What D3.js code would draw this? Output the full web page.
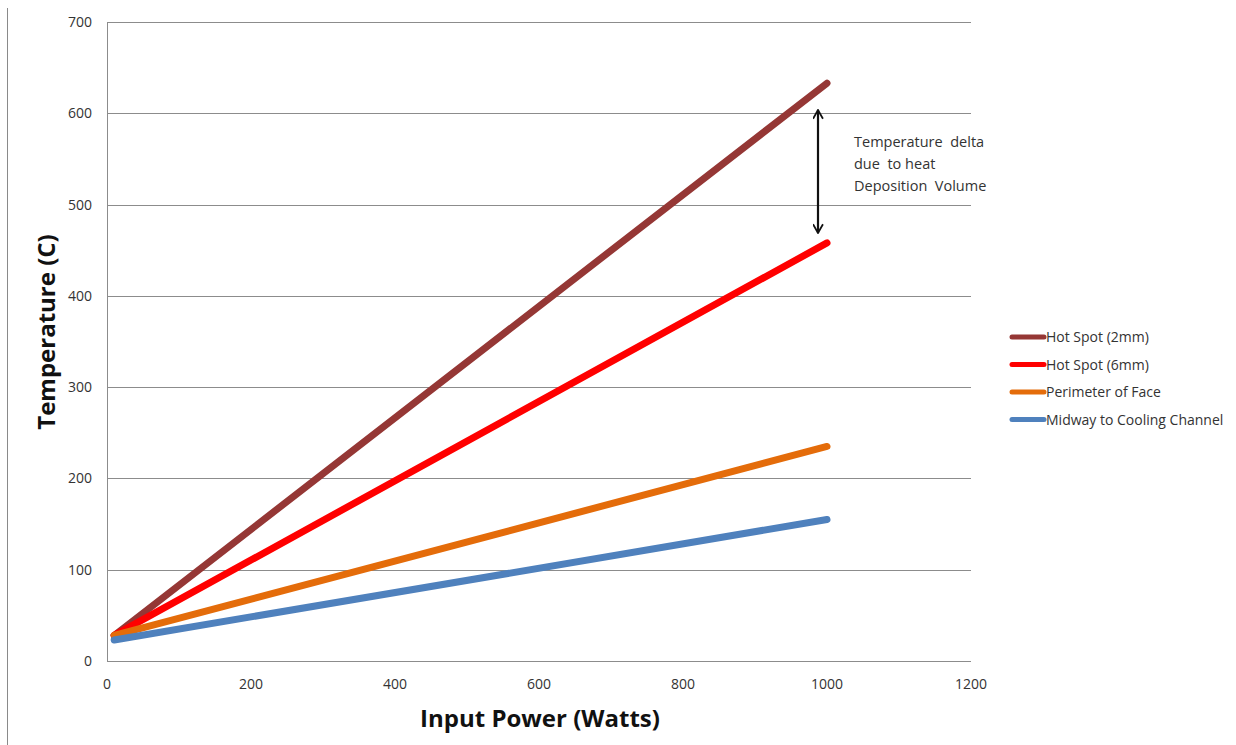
<!DOCTYPE html>
<html>
<head>
<meta charset="utf-8">
<script src="https://cdn.jsdelivr.net/npm/d3@7"></script>
<style>
  body { margin: 0; background: #fff; }
  text { font-family: "Open Sans", "Noto Sans", sans-serif; fill: #333; }
</style>
</head>
<body>
<div id="vis"></div>
<script>
const WIDTH = 1236;
const HEIGHT = 745;

// datos
const power = [10, 1000];
const hotSpot2 = [28, 633];
const hotSpot6 = [28, 458];
const perimeter = [28, 235];
const midway = [23, 155];

const seriesNames = ["Hot Spot (2mm)", "Hot Spot (6mm)", "Perimeter of Face", "Midway to Cooling Channel"];
const seriesColors = ["#953735", "#ff0000", "#e46c0a", "#4f81bd"];
const seriesValues = [hotSpot2, hotSpot6, perimeter, midway];

const xTicks = [0, 200, 400, 600, 800, 1000, 1200];
const yTicks = [0, 100, 200, 300, 400, 500, 600, 700];

const noteLines = ["Temperature  delta", "due  to heat", "Deposition  Volume"];

const SVG = d3.select("#vis").append("svg")
    .attr("width", WIDTH).attr("height", HEIGHT);

const x = d3.scaleLinear().domain([0, 1200]).range([107, 971]);
const y = d3.scaleLinear().domain([0, 700]).range([661, 22]);

// borde izquierdo
SVG.append("line")
    .attr("x1", 7.5).attr("x2", 7.5).attr("y1", 8).attr("y2", HEIGHT)
    .attr("stroke", "#8a8a8a").attr("stroke-width", 1);

// grilla
SVG.append("g").selectAll("line").data(yTicks).join("line")
    .attr("x1", x(0)).attr("x2", x(1200))
    .attr("y1", d => Math.round(y(d)) + 0.5).attr("y2", d => Math.round(y(d)) + 0.5)
    .attr("stroke", "#8c8c8c").attr("stroke-width", 1);

SVG.append("line")
    .attr("x1", x(0) + 0.5).attr("x2", x(0) + 0.5).attr("y1", y(700)).attr("y2", y(0))
    .attr("stroke", "#8c8c8c").attr("stroke-width", 1);

// etiquetas de ejes
SVG.append("g").selectAll("text").data(yTicks).join("text")
    .attr("x", 92).attr("y", d => y(d) + 5)
    .attr("text-anchor", "end").attr("font-size", 14)
    .text(d => d);

SVG.append("g").selectAll("text").data(xTicks).join("text")
    .attr("x", d => x(d)).attr("y", 689)
    .attr("text-anchor", "middle").attr("font-size", 14)
    .text(d => d);

SVG.append("text")
    .attr("x", 540).attr("y", 727)
    .attr("text-anchor", "middle").attr("font-size", 24).attr("font-weight", "bold")
    .style("fill", "#111")
    .text("Input Power (Watts)");

SVG.append("text")
    .attr("transform", "translate(55,332) rotate(-90)")
    .attr("text-anchor", "middle").attr("font-size", 24).attr("font-weight", "bold")
    .style("fill", "#111")
    .text("Temperature (C)");

// lineas
const line = d3.line().x((d, i) => x(power[i])).y(d => y(d));

SVG.append("g").selectAll("path").data(seriesValues).join("path")
    .attr("d", d => line(d))
    .attr("fill", "none")
    .attr("stroke", (d, i) => seriesColors[i])
    .attr("stroke-width", 7)
    .attr("stroke-linecap", "round");

// flecha
SVG.append("defs").append("marker")
    .attr("id", "head")
    .attr("viewBox", "0 0 10 10")
    .attr("refX", 9).attr("refY", 5)
    .attr("markerWidth", 5).attr("markerHeight", 5)
    .attr("orient", "auto-start-reverse")
    .attr("markerUnits", "strokeWidth")
    .append("path")
    .attr("d", "M1,0.5 L9,5 L1,9.5")
    .attr("fill", "none").attr("stroke", "#111").attr("stroke-width", 1.6);

SVG.append("line")
    .attr("x1", 818).attr("x2", 818)
    .attr("y1", 110).attr("y2", 233)
    .attr("stroke", "#111").attr("stroke-width", 2.2)
    .attr("marker-start", "url(#head)")
    .attr("marker-end", "url(#head)");

SVG.append("g").selectAll("text").data(noteLines).join("text")
    .attr("x", 854).attr("y", (d, i) => 147 + i * 22)
    .attr("font-size", 14.5)
    .style("white-space", "pre")
    .text(d => d);

// leyenda
const legend = SVG.append("g").selectAll("g").data(seriesNames).join("g")
    .attr("transform", (d, i) => `translate(1012,${337 + i * 27.5})`);

legend.append("line")
    .attr("x1", 0).attr("x2", 32).attr("y1", 0).attr("y2", 0)
    .attr("stroke", (d, i) => seriesColors[i])
    .attr("stroke-width", 5).attr("stroke-linecap", "round");

legend.append("text")
    .attr("x", 34).attr("y", 5)
    .attr("font-size", 14)
    .text(d => d);
</script>
</body>
</html>
